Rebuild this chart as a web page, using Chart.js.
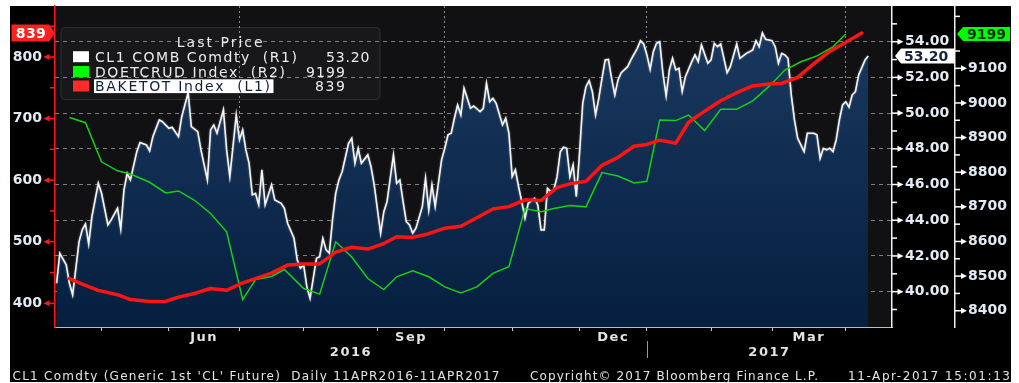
<!DOCTYPE html>
<html><head><meta charset="utf-8">
<script src="https://cdn.jsdelivr.net/npm/chart.js@4.4.0/dist/chart.umd.min.js"></script>
<style>html,body{margin:0;padding:0;background:#fff;overflow:hidden}#wrap{width:1019px;height:383px}</style>
</head><body><div id="wrap"><canvas id="c" width="1019" height="383"></canvas></div>
<script>
// ---- DATA (x = trading-day index from 11 Apr 2016) ----
const cl1Days = [
 0,1,3,4,5,7,8,9,10,11,
 13,14,16,17,19,20,21,22,23,25,
 26,28,29,30,32,33,35,36,38,39,
 41,42,44,45,47,48,49,50,52,53,
 54,56,57,58,59,60,61,62,63,64,
 65,67,68,70,71,72,74,75,76,77,
 78,79,81,82,83,84,85,86,87,88,
 89,91,92,93,94,95,97,98,99,101,
 102,103,105,106,107,108,109,110,111,112,
 114,115,116,117,118,119,120,121,122,123,
 124,125,126,127,129,130,132,133,134,135,
 136,137,139,140,141,142,143,144,145,146,
 147,149,150,151,152,153,154,155,156,157,
 158,159,160,161,162,163,164,165,166,167,
 168,169,170,171,172,173,174,175,176,178,
 179,181,182,183,184,185,186,187,188,189,
 190,191,192,193,194,195,196,198,199,200,
 201,203,204,205,206,207,209,210,212,213,
 215,216,217,218,219,220,221,223,224,225,
 226,227,228,229,230,231,232,233,234,236,
 237,238,239,240,241,242,243,244,245,246,
 247,248,249,250,252,253];
const cl1Prices = [
 40.47,42.15,41.50,40.47,39.82,42.80,43.46,43.79,42.67,44.20,
 46.07,45.51,43.74,44.02,44.67,43.50,45.70,46.63,46.26,47.84,
 48.35,48.22,47.88,48.68,49.62,49.52,49.15,49.21,48.68,49.80,
 51.14,49.24,48.96,47.94,46.26,49.06,49.34,48.87,50.18,47.94,
 46.44,49.90,48.50,49.06,47.94,47.19,45.42,45.51,44.86,46.82,
 44.86,45.98,45.14,44.95,44.67,43.83,42.99,41.78,41.31,41.50,
 40.28,39.63,41.87,41.96,42.99,42.34,42.15,44.02,45.51,46.26,
 46.72,48.31,48.59,47.19,48.03,47.19,47.66,47.00,45.98,43.27,
 44.48,45.04,47.66,46.07,46.26,45.04,43.92,43.74,43.27,43.55,
 44.76,46.35,44.58,45.98,44.76,46.07,47.38,48.03,48.78,48.87,
 49.71,50.46,49.90,51.39,50.27,50.40,50.08,50.27,51.67,50.64,
 50.83,50.55,49.34,49.71,48.87,46.44,46.82,45.88,45.04,44.11,
 44.95,45.23,44.86,43.46,43.46,45.79,45.60,45.70,46.44,47.84,
 48.09,48.03,46.44,47.10,45.32,47.75,50.55,51.48,51.82,51.20,
 49.90,50.83,51.95,52.98,53.01,51.95,51.02,51.86,52.26,52.60,
 52.98,53.63,54.06,53.87,53.26,52.45,53.44,53.91,54.00,52.23,
 50.96,52.42,53.07,52.42,52.51,51.20,52.04,52.88,53.26,52.88,
 53.82,52.79,52.98,53.91,53.72,53.87,52.26,52.60,53.87,53.07,
 53.35,53.44,53.54,54.06,53.72,54.50,54.13,54.06,53.72,52.79,
 53.35,53.26,53.07,51.02,49.62,48.59,48.22,47.84,48.87,48.87,
 48.78,47.47,48.03,47.94,48.03,47.84,48.50,49.62,50.46,50.64,
 50.33,51.02,51.20,52.14,52.98,53.20];
const doeDays = [4,9,14,19,23,29,34,38,43,48,53,58,62,67,71,77,82,87,92,97,102,106,111,116,121,126,131,136,141,146,151,155,160,165,170,175,180,184,188,193,197,202,207,212,217,222,227,232,237,242,246];
const doeValues = [8958,8943,8830,8804,8795,8771,8740,8746,8719,8681,8628,8432,8490,8499,8519,8464,8448,8599,8555,8493,8461,8498,8515,8498,8469,8451,8469,8508,8527,8695,8686,8695,8704,8700,8799,8789,8769,8774,8951,8949,8965,8920,8982,8982,9006,9047,9095,9119,9136,9162,9199];
const rigDays = [4,8,13,19,23,29,34,38,43,48,53,57,62,67,72,77,82,87,92,97,102,106,111,116,121,126,131,136,141,146,151,156,160,165,170,175,180,184,188,193,197,202,207,212,217,222,226,231,236,241,246,251];
const rigCounts = [440,431,421,414,406,403,403,410,416,424,421,431,440,449,462,464,464,483,491,488,497,508,507,513,522,525,539,553,557,568,567,588,594,598,624,637,655,658,665,660,694,712,729,742,753,756,757,767,789,809,824,839];
const monthStartDays = [14,35,57,77,100,121,142,163,184,204,223,246];
const monthNames = ['May','Jun','Jul','Aug','Sep','Oct','Nov','Dec','Jan','Feb','Mar','Apr'];
const leftTicks = [400,500,600,700,800];
const r1Ticks = [40,42,44,46,48,50,52,54];
const r2Ticks = [8400,8500,8600,8700,8800,8900,9000,9100];
const yearLabels = ['2016','2017'];
const seriesNames = ['CL1 COMB Comdty  (R1)','DOETCRUD Index  (R2)','BAKETOT Index  (L1)'];
const footerTexts = ["CL1 Comdty (Generic 1st 'CL' Future)  Daily 11APR2016-11APR2017","Copyright\u00A9 2017 Bloomberg Finance L.P.","11-Apr-2017 15:01:13"];

// ---- helpers ----
const FF = "'DejaVu Sans', Verdana, sans-serif";
const W = 1019, H = 383;
const quarterIdx = [2,5,8,11];
const labelMonthIdx = [1,4,7,10];
function txt(ctx, s, x, y, font, color, align, spacing) {
  ctx.save(); ctx.font = font; ctx.fillStyle = color; ctx.textAlign = align || 'left';
  ctx.textBaseline = 'alphabetic'; ctx.letterSpacing = (spacing || 0) + 'px';
  ctx.fillText(s, x, y); ctx.restore();
}
// draw text so that its visible span is `width` px (adjusting letter spacing)
function fitTxt(ctx, s, x, y, font, color, align, width) {
  ctx.save(); ctx.font = font; ctx.letterSpacing = '0px';
  const w = ctx.measureText(s).width;
  const sp = s.length > 1 ? (width - w) / (s.length - 1) : 0;
  const left = align === 'right' ? x - width : (align === 'center' ? x - width / 2 : x);
  ctx.letterSpacing = sp + 'px'; ctx.textAlign = 'left'; ctx.textBaseline = 'alphabetic';
  ctx.fillStyle = color; ctx.fillText(s, left, y); ctx.restore();
}
function minorsOf(ticks, scale) {
  const step = ticks[1] - ticks[0], out = [];
  for (let v = ticks[0] - step / 2; v <= scale.max; v += step) if (v >= scale.min) out.push(v);
  return out;
}
function pts(days, vals) { return days.map((d, i) => ({x: d, y: vals[i]})); }

const bb = {
  id: 'bb',
  beforeDraw(chart) {
    const ctx = chart.ctx, a = chart.chartArea;
    ctx.save();
    ctx.fillStyle = '#ffffff'; ctx.fillRect(0, 0, W, H);
    ctx.fillStyle = '#000000'; ctx.fillRect(10, 6, 1001, 376);
    ctx.fillStyle = '#111114'; ctx.fillRect(a.left, a.top, a.right - a.left, a.bottom - a.top);
    ctx.beginPath(); ctx.roundRect(61, 27.5, 319, 72, 4);
    ctx.fillStyle = '#18181a'; ctx.fill(); ctx.strokeStyle = '#2e2e30'; ctx.lineWidth = 1; ctx.stroke();
    ctx.restore();
  },
  beforeDatasetDraw(chart, args) {
    if (args.index === 0) { const c = chart.ctx; c.save(); c.shadowColor = 'rgba(140,150,160,0.9)'; c.shadowBlur = 2; }
  },
  afterDatasetDraw(chart, args) {
    if (args.index === 0) chart.ctx.restore();
  },
  afterDatasetsDraw(chart) {
    const ctx = chart.ctx;
    const LF = '14px ' + FF;
    fitTxt(ctx, 'Last Price', 176.7, 47.3, LF, '#e8e8e8', 'left', 86);
    const sw = ['#ffffff', '#00ff00', '#ff2a2a'];
    const base = [61.7, 76.5, 91];
    const vals = [cl1Prices[cl1Prices.length - 1].toFixed(2), String(doeValues[doeValues.length - 1]), String(rigCounts[rigCounts.length - 1])];
    const nameW = [202, 190, 175];
    const valRight = [369.5, 345, 345];
    const valW = [43.5, 39, 30];
    for (let i = 0; i < 3; i++) {
      ctx.fillStyle = sw[i]; ctx.fillRect(73, base[i] - 10.5, 16, 11);
      if (i === 2) { ctx.fillStyle = '#ffffff'; ctx.fillRect(94, base[i] - 11.7, 179.5, 13.8); }
      fitTxt(ctx, seriesNames[i], 95, base[i], LF, i === 2 ? '#10203a' : '#ececec', 'left', nameW[i]);
      fitTxt(ctx, vals[i], valRight[i], base[i], LF, '#ececec', 'right', valW[i]);
    }
  },
  afterDraw(chart) {
    const ctx = chart.ctx, a = chart.chartArea;
    const yL = chart.scales.yL, y1 = chart.scales.yR1, y2 = chart.scales.yR2, x = chart.scales.x;
    ctx.save();
    // left axis marks: short line + arrowhead pointing at label
    ctx.fillStyle = '#ff1a1a'; ctx.strokeStyle = '#ff1a1a'; ctx.lineWidth = 1.5;
    leftTicks.forEach(v => { const y = yL.getPixelForValue(v);
      ctx.beginPath(); ctx.moveTo(48, y); ctx.lineTo(55, y); ctx.stroke();
      ctx.beginPath(); ctx.moveTo(43.5, y); ctx.lineTo(49.5, y - 3); ctx.lineTo(49.5, y + 3); ctx.closePath(); ctx.fill(); });
    minorsOf(leftTicks, yL).forEach(v => { const y = yL.getPixelForValue(v);
      ctx.beginPath(); ctx.moveTo(50, y); ctx.lineTo(55, y); ctx.stroke(); });
    // right axes marks
    ctx.fillStyle = '#ffffff'; ctx.strokeStyle = '#ffffff'; ctx.lineWidth = 1.5;
    r1Ticks.forEach(v => { const y = y1.getPixelForValue(v);
      ctx.beginPath(); ctx.moveTo(892, y); ctx.lineTo(899, y); ctx.stroke();
      ctx.beginPath(); ctx.moveTo(903.5, y); ctx.lineTo(897.5, y - 3); ctx.lineTo(897.5, y + 3); ctx.closePath(); ctx.fill(); });
    minorsOf(r1Ticks, y1).forEach(v => { const y = y1.getPixelForValue(v);
      ctx.beginPath(); ctx.moveTo(892, y); ctx.lineTo(897, y); ctx.stroke(); });
    r2Ticks.forEach(v => { const y = y2.getPixelForValue(v);
      ctx.beginPath(); ctx.moveTo(955, y); ctx.lineTo(962, y); ctx.stroke();
      ctx.beginPath(); ctx.moveTo(967, y); ctx.lineTo(961, y - 3); ctx.lineTo(961, y + 3); ctx.closePath(); ctx.fill(); });
    minorsOf(r2Ticks, y2).forEach(v => { const y = y2.getPixelForValue(v);
      ctx.beginPath(); ctx.moveTo(955, y); ctx.lineTo(960, y); ctx.stroke(); });
    // last value tags
    const TF = 'bold 14px ' + FF;
    const lr = rigCounts[rigCounts.length - 1]; let py = yL.getPixelForValue(lr);
    ctx.fillStyle = '#ff1f1f'; ctx.beginPath(); ctx.moveTo(11.5, py - 8.5); ctx.lineTo(49, py - 8.5); ctx.lineTo(55, py);
    ctx.lineTo(49, py + 8.5); ctx.lineTo(11.5, py + 8.5); ctx.closePath(); ctx.fill();
    txt(ctx, String(lr), 31, py + 5, TF, '#ffffff', 'center', 0.5);
    const lc = cl1Prices[cl1Prices.length - 1]; py = y1.getPixelForValue(lc);
    ctx.fillStyle = '#ffffff'; ctx.beginPath(); ctx.moveTo(895, py); ctx.lineTo(901, py - 7.5); ctx.lineTo(955, py - 7.5);
    ctx.lineTo(955, py + 7.5); ctx.lineTo(901, py + 7.5); ctx.closePath(); ctx.fill();
    txt(ctx, lc.toFixed(2), 904, py + 5, TF, '#13243c', 'left', 0);
    const ld = doeValues[doeValues.length - 1]; py = y2.getPixelForValue(ld);
    ctx.fillStyle = '#00ff00'; ctx.beginPath(); ctx.moveTo(957, py); ctx.lineTo(963, py - 7); ctx.lineTo(1010, py - 7);
    ctx.lineTo(1010, py + 7); ctx.lineTo(963, py + 7); ctx.closePath(); ctx.fill();
    txt(ctx, String(ld), 967, py + 5, TF, '#0a2a0a', 'left', 0);
    // month / year labels
    const MF = 'bold 13px ' + FF;
    labelMonthIdx.forEach(i => {
      const xm = (x.getPixelForValue(monthStartDays[i]) + x.getPixelForValue(monthStartDays[i + 1])) / 2;
      txt(ctx, monthNames[i], xm, 341, MF, '#e4e4e4', 'center', 1.5);
    });
    const xb = x.getPixelForValue(monthStartDays[8]);
    txt(ctx, yearLabels[0], (a.left + xb) / 2, 356, MF, '#e4e4e4', 'center', 1.5);
    txt(ctx, yearLabels[1], (xb + a.right) / 2, 356, MF, '#e4e4e4', 'center', 1.5);
    ctx.strokeStyle = '#9a9a9a'; ctx.lineWidth = 1; ctx.beginPath(); ctx.moveTo(Math.round(xb) + 0.5, 341); ctx.lineTo(Math.round(xb) + 0.5, 358); ctx.stroke();
    // footer
    const FT = '12px ' + FF;
    fitTxt(ctx, footerTexts[0], 12.5, 380, FT, '#e4e4e4', 'left', 487);
    fitTxt(ctx, footerTexts[1], 530, 380, FT, '#e4e4e4', 'left', 288);
    fitTxt(ctx, footerTexts[2], 1010, 380, FT, '#e4e4e4', 'right', 162);
    ctx.restore();
  }
};

function fillGrad(c) {
  const ch = c.chart, a = ch.chartArea;
  if (!a) return 'rgba(20,50,90,0.9)';
  const g = ch.ctx.createLinearGradient(0, a.top, 0, a.bottom);
  g.addColorStop(0, '#1b3a61'); g.addColorStop(1, '#061f40');
  return g;
}
const tickFont = {family: FF, size: 14, weight: 'bold'};
const tickColor = '#e2eaf4';

new Chart(document.getElementById('c'), {
  type: 'line',
  data: {
    datasets: [
      {label: 'CL1', data: pts(cl1Days, cl1Prices), yAxisID: 'yR1', borderColor: '#f5f5f5', borderWidth: 1.6,
       fill: 'start', backgroundColor: fillGrad, pointRadius: 0, tension: 0, order: 3},
      {label: 'DOE', data: pts(doeDays, doeValues), yAxisID: 'yR2', borderColor: '#16d016', borderWidth: 1.5,
       fill: false, pointRadius: 0, tension: 0, order: 2},
      {label: 'BAKER', data: pts(rigDays, rigCounts), yAxisID: 'yL', borderColor: '#ff1414', borderWidth: 3.5,
       borderJoinStyle: 'round', borderCapStyle: 'round', fill: false, pointRadius: 0, tension: 0, order: 1}
    ]
  },
  options: {
    responsive: false, animation: false, devicePixelRatio: 1,
    layout: {padding: {top: 6, left: 0, right: 0, bottom: 0}},
    plugins: {legend: {display: false}, tooltip: {enabled: false}},
    scales: {
      x: {type: 'linear', min: -0.5, max: 260.4, position: 'bottom',
          afterBuildTicks: s => { s.ticks = monthStartDays.map(v => ({value: v})); },
          afterFit: s => { s.height = 56; s.paddingLeft = 0; s.paddingRight = 0; },
          ticks: {display: false},
          grid: {display: true, drawOnChartArea: true, drawTicks: true, tickLength: 4, tickColor: '#c8c8c8', tickWidth: 1,
                 lineWidth: 1, color: c => (c.tick && quarterIdx.some(i => monthStartDays[i] === c.tick.value)) ? 'rgba(175,175,175,0.8)' : 'rgba(0,0,0,0)'},
          border: {display: true, color: '#bdbdbd', width: 1, dash: [2, 3]}},
      yL: {type: 'linear', position: 'left', min: 361.5, max: 882.8,
          afterBuildTicks: s => { s.ticks = leftTicks.map(v => ({value: v})); },
          afterFit: s => { s.width = 55; s.paddingTop = 0; s.paddingBottom = 0; },
          grid: {display: false, drawTicks: false},
          border: {display: true, color: '#ff1a1a', width: 1.5},
          ticks: {color: tickColor, font: tickFont, padding: 13}},
      yR1: {type: 'linear', position: 'right', weight: 0, min: 38.02, max: 56.0,
          afterBuildTicks: s => { s.ticks = r1Ticks.map(v => ({value: v})); },
          afterFit: s => { s.width = 63; s.paddingTop = 0; s.paddingBottom = 0; },
          grid: {display: true, drawOnChartArea: true, drawTicks: false, color: 'rgba(165,165,165,0.75)', lineWidth: 1},
          border: {display: true, color: '#f0f0f0', width: 1.5, dash: [4, 4]},
          ticks: {color: tickColor, font: tickFont, padding: 13, callback: v => Number(v).toFixed(2)}},
      yR2: {type: 'linear', position: 'right', weight: 1, min: 8353, max: 9280,
          afterBuildTicks: s => { s.ticks = r2Ticks.map(v => ({value: v})); },
          afterFit: s => { s.width = 64; s.paddingTop = 0; s.paddingBottom = 0; },
          grid: {display: false, drawTicks: false},
          border: {display: true, color: '#f0f0f0', width: 1.5},
          ticks: {color: tickColor, font: tickFont, padding: 13, callback: v => String(v)}}
    }
  },
  plugins: [bb]
});
</script></body></html>
